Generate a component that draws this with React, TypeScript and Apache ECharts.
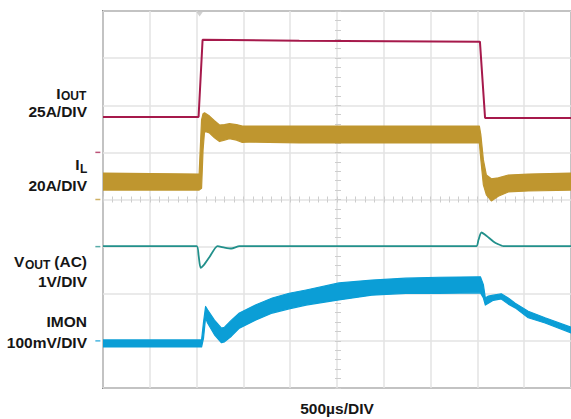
import React, { useEffect, useRef } from "react";
import * as echarts from "echarts";

// Time in µs (500 µs/DIV, 10 divisions); vertical values in screen divisions (8 divisions)
const ioutTime = [0, 1021, 1064, 2096, 4027, 4082, 5000];
const ioutDiv = [5.75, 5.75, 7.39, 7.37, 7.35, 5.73, 5.73];

const ilTime = [0, 1027, 1053, 1069, 1085, 1138, 1191, 1245, 1298, 1351, 1426, 1489, 1564, 2096, 3160, 4021, 4037, 4064, 4096, 4149, 4223, 4330, 4543, 5000];
const ilTop = [4.56, 4.54, 5.69, 5.82, 5.84, 5.77, 5.67, 5.58, 5.59, 5.61, 5.59, 5.56, 5.56, 5.56, 5.56, 5.56, 5.37, 4.84, 4.52, 4.44, 4.46, 4.52, 4.54, 4.56];
const ilBottom = [4.2, 4.2, 4.24, 5.05, 5.45, 5.41, 5.31, 5.23, 5.26, 5.29, 5.26, 5.21, 5.22, 5.2, 5.2, 5.2, 4.84, 4.31, 4.1, 3.97, 4.07, 4.16, 4.18, 4.2];

const voutTime = [0, 1000, 1021, 1043, 1085, 1138, 1223, 1298, 1372, 1457, 3989, 4011, 4043, 4096, 4170, 4223, 4277, 5000];
const voutDiv = [3.01, 3.01, 2.82, 2.55, 2.63, 2.78, 3.01, 2.98, 2.96, 3.01, 3.01, 3.14, 3.3, 3.23, 3.11, 3.05, 3.01, 3.01];

const imonTime = [0, 1053, 1074, 1096, 1117, 1191, 1266, 1298, 1372, 1457, 1628, 1809, 1989, 2170, 2521, 2872, 3234, 3585, 4032, 4064, 4085, 4117, 4170, 4255, 4330, 4404, 4543, 4723, 5000];
const imonTop = [1.02, 1.02, 1.4, 1.73, 1.66, 1.44, 1.27, 1.29, 1.44, 1.59, 1.76, 1.91, 2.01, 2.08, 2.23, 2.29, 2.33, 2.35, 2.36, 2.19, 1.91, 1.95, 1.97, 2.0, 1.91, 1.8, 1.63, 1.49, 1.29];
const imonBottom = [0.87, 0.87, 1.06, 1.49, 1.38, 1.13, 0.96, 0.98, 1.1, 1.27, 1.44, 1.59, 1.68, 1.76, 1.87, 1.97, 2.01, 2.01, 2.02, 1.91, 1.76, 1.8, 1.86, 1.89, 1.78, 1.7, 1.49, 1.38, 1.17];

// Channel reference level markers (left of screen) and trigger marker
const refLevels = [5, 4, 3, 1];
const refMarkerTime = -55;
const triggerTime = 1032;

const C_IOUT = "#a6194b";
const C_IL = "#bf962f";
const C_VOUT = "#22908b";
const C_IMON = "#0b9ed6";
const refColors = [C_IOUT, C_IL, C_VOUT, C_IMON];

const FONT = "'Liberation Sans', Arial, Helvetica, sans-serif";
const TXT = "#161616";

function zip(a: number[], b: number[]) {
  return a.map((x, i) => [x, b[i]]);
}

function band(times: number[], top: number[], bottom: number[], color: string, z: number) {
  return {
    type: "custom",
    coordinateSystem: "cartesian2d",
    silent: true,
    clip: true,
    z,
    data: [[times[0], top[0]]],
    renderItem: (_p: any, api: any) => {
      const pts: number[][] = [];
      for (let i = 0; i < times.length; i++) pts.push(api.coord([times[i], top[i]]));
      for (let i = times.length - 1; i >= 0; i--) pts.push(api.coord([times[i], bottom[i]]));
      return {
        type: "polygon",
        shape: { points: pts },
        style: { fill: color, stroke: color, lineWidth: 1.2, lineJoin: "round" },
      };
    },
  };
}

function txt(text: string, x: number, y: number, align: string, size = 15.5) {
  return {
    type: "text",
    x,
    y,
    silent: true,
    style: {
      text,
      fill: TXT,
      font: `bold ${size}px ${FONT}`,
      align,
      verticalAlign: "middle",
    },
  };
}

const tickStyle = { color: "#cdcdcd", width: 1 };

function centerX(inside: boolean) {
  return {
    type: "value",
    min: 0,
    max: 5000,
    interval: 500,
    position: "bottom",
    offset: -188.5,
    axisLine: { show: false, onZero: false },
    axisTick: { show: true, inside, length: 3, lineStyle: tickStyle },
    minorTick: { show: true, splitNumber: 5, length: 3, lineStyle: tickStyle },
    axisLabel: { show: false },
    splitLine: { show: false },
  };
}

function centerY(inside: boolean) {
  return {
    type: "value",
    min: 0,
    max: 8,
    interval: 1,
    position: "left",
    offset: -235,
    axisLine: { show: false, onZero: false },
    axisTick: { show: true, inside, length: 3, lineStyle: tickStyle },
    minorTick: { show: true, splitNumber: 5, length: 3, lineStyle: tickStyle },
    axisLabel: { show: false },
    splitLine: { show: false },
  };
}

export default function App() {
  const ref = useRef<HTMLDivElement>(null);
  useEffect(() => {
    const chart = echarts.init(ref.current!, null, { renderer: "svg" });
    const option: any = {
      animation: false,
      backgroundColor: "#ffffff",
      grid: {
        left: 103,
        top: 11,
        right: -2,
        bottom: 31,
        show: true,
        borderColor: "#333333",
        borderWidth: 1.5,
        backgroundColor: "transparent",
      },
      xAxis: [
        {
          type: "value",
          min: 0,
          max: 5000,
          interval: 500,
          axisLine: { show: false, onZero: false },
          axisTick: { show: false },
          axisLabel: { show: false },
          splitLine: { show: true, lineStyle: { color: "#e3e3e3", width: 1.5 } },
        },
        centerX(false),
        centerX(true),
      ],
      yAxis: [
        {
          type: "value",
          min: 0,
          max: 8,
          interval: 1,
          axisLine: { show: false, onZero: false },
          axisTick: { show: false },
          axisLabel: { show: false },
          splitLine: { show: true, lineStyle: { color: "#e3e3e3", width: 1.5 } },
        },
        centerY(false),
        centerY(true),
      ],
      series: [
        band(imonTime, imonTop, imonBottom, C_IMON, 2),
        band(ilTime, ilTop, ilBottom, C_IL, 3),
        {
          type: "line",
          data: zip(ioutTime, ioutDiv),
          showSymbol: false,
          silent: true,
          z: 4,
          lineStyle: { color: C_IOUT, width: 2 },
          itemStyle: { color: C_IOUT },
        },
        {
          type: "line",
          data: zip(voutTime, voutDiv),
          showSymbol: false,
          silent: true,
          smooth: 0.2,
          z: 4,
          lineStyle: { color: C_VOUT, width: 1.8 },
          itemStyle: { color: C_VOUT },
        },
        {
          type: "scatter",
          clip: false,
          silent: true,
          symbol: "rect",
          symbolSize: [5, 1.5],
          data: refLevels.map((v, i) => ({
            value: [refMarkerTime, v],
            itemStyle: { color: refColors[i], opacity: 0.75 },
          })),
        },
        {
          type: "scatter",
          clip: false,
          silent: true,
          symbol: "triangle",
          symbolRotate: 180,
          symbolSize: [7, 5],
          symbolOffset: [0, 3],
          itemStyle: { color: "#c4c4c4" },
          data: [[triggerTime, 8]],
        },
      ],
      graphic: {
        elements: [
          txt("I", 60.5, 93.5, "right"),
          txt("OUT", 61, 96, "left", 12),
          txt("25A/DIV", 87, 111, "right"),
          txt("I", 79.5, 164, "right"),
          txt("L", 80, 168.5, "left", 12),
          txt("20A/DIV", 87, 185.5, "right"),
          txt("V", 14, 261, "left"),
          txt("OUT", 25, 264.5, "left", 12),
          txt("(AC)", 87, 261, "right"),
          txt("1V/DIV", 87, 281.5, "right"),
          txt("IMON", 87, 321, "right"),
          txt("100mV/DIV", 87, 342.5, "right"),
          txt("500µs/DIV", 337, 408, "center"),
        ],
      },
    };
    chart.setOption(option);
    return () => chart.dispose();
  }, []);
  return (
    <div
      ref={ref}
      style={{ position: "absolute", left: 0, top: 0, width: 571, height: 419, background: "#fff" }}
    />
  );
}
